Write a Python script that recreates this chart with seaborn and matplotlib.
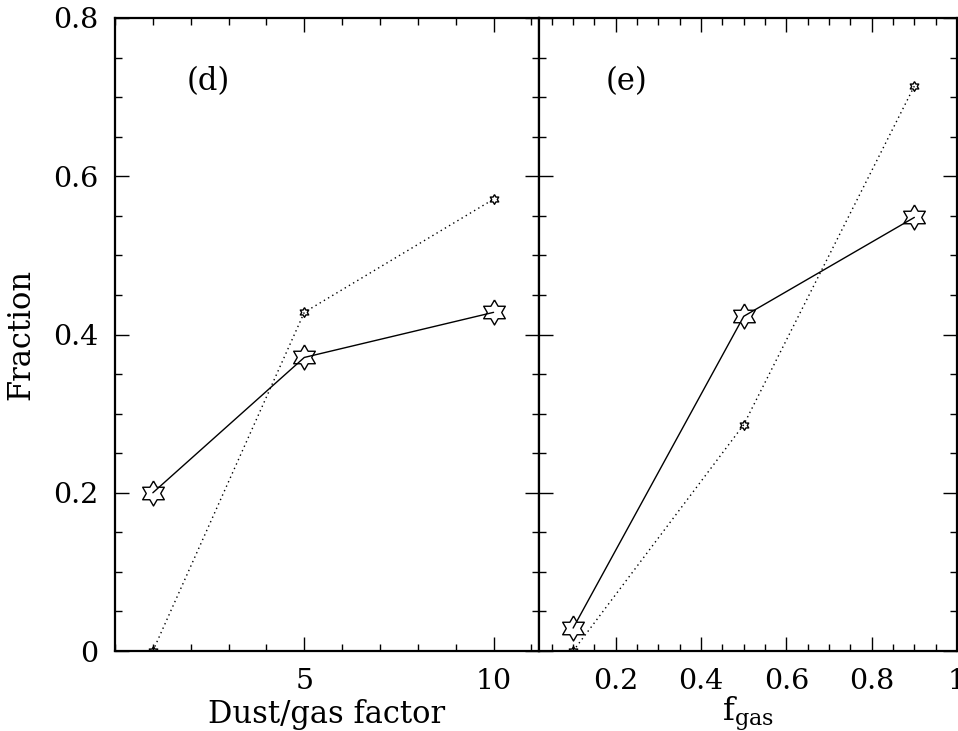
import numpy as np
import pandas as pd
import matplotlib
matplotlib.use("Agg")
import matplotlib.pyplot as plt
from matplotlib.ticker import FixedLocator, MultipleLocator
import seaborn as sns

# Panel (d): fraction versus dust/gas factor
dust_factor = [1, 5, 10]
dust_solid = [0.200, 0.371, 0.428]
dust_dotted = [0.0, 0.428, 0.571]

# Panel (e): fraction versus gas fraction
fgas = [0.1, 0.5, 0.9]
fgas_solid = [0.029, 0.423, 0.548]
fgas_dotted = [0.0, 0.286, 0.714]

y_ticks = [0, 0.2, 0.4, 0.6, 0.8]
y_ticklabels = ["0", "0.2", "0.4", "0.6", "0.8"]
dust_ticks = [5, 10]
dust_ticklabels = ["5", "10"]
fgas_ticks = [0.2, 0.4, 0.6, 0.8, 1.0]
fgas_ticklabels = ["0.2", "0.4", "0.6", "0.8", "1"]

sns.set_style("white")
plt.rcParams["font.family"] = ["DejaVu Serif"]
plt.rcParams["mathtext.fontset"] = "dejavuserif"
plt.rcParams["text.color"] = "black"
plt.rcParams["axes.labelcolor"] = "black"
plt.rcParams["xtick.color"] = "black"
plt.rcParams["ytick.color"] = "black"

# Open six-pointed star marker
ang = np.deg2rad(90 + 30 * np.arange(12))
rad = np.where(np.arange(12) % 2 == 0, 1.0, 1 / np.sqrt(3))
star = list(zip(rad * np.cos(ang), rad * np.sin(ang)))
star.append(star[0])

W, H = 958, 731
fig = plt.figure(figsize=(W / 100, H / 100), dpi=100)
bottom, top = 651, 18
ax1 = fig.add_axes([115 / W, (H - bottom) / H, 424 / W, (bottom - top) / H])
ax2 = fig.add_axes([539 / W, (H - bottom) / H, 418 / W, (bottom - top) / H])

fs_tick = 20.5
fs_label = 22


def draw(ax, x, solid, dotted):
    df_s = pd.DataFrame({"x": x, "y": solid})
    df_d = pd.DataFrame({"x": x, "y": dotted})
    sns.lineplot(data=df_d, x="x", y="y", ax=ax, color="black", lw=1.0,
                 linestyle=(0, (1, 2.5)), marker=star, markersize=7,
                 markerfacecolor="none", markeredgecolor="black",
                 markeredgewidth=1.0)
    sns.lineplot(data=df_s, x="x", y="y", ax=ax, color="black", lw=1.0,
                 marker=star, markersize=18, markerfacecolor="none",
                 markeredgecolor="black", markeredgewidth=1.0)


draw(ax1, dust_factor, dust_solid, dust_dotted)
draw(ax2, fgas, fgas_solid, fgas_dotted)

ax1.set_xlim(0, 11.2)
ax2.set_xlim(0.02, 1.0)

for ax in (ax1, ax2):
    ax.set_ylim(0, 0.8)
    ax.yaxis.set_major_locator(FixedLocator(y_ticks))
    ax.yaxis.set_minor_locator(MultipleLocator(0.05))
    for s in ax.spines.values():
        s.set_linewidth(1.6)
        s.set_color("black")
    ax.tick_params(which="both", direction="in", top=True, right=True,
                   bottom=True, left=True, color="black")
    ax.tick_params(which="major", length=10, width=1.0, pad=12,
                   labelsize=fs_tick)
    ax.tick_params(which="minor", length=5, width=1.0)
    ax.set_ylabel("")

ax1.set_yticklabels(y_ticklabels)
ax2.tick_params(labelleft=False)

ax1.xaxis.set_major_locator(FixedLocator(dust_ticks))
ax1.set_xticklabels(dust_ticklabels)
ax1.xaxis.set_minor_locator(MultipleLocator(1))
ax2.xaxis.set_major_locator(FixedLocator(fgas_ticks))
ax2.set_xticklabels(fgas_ticklabels)
ax2.xaxis.set_minor_locator(MultipleLocator(0.05))

ax1.set_xlabel("Dust/gas factor", fontsize=fs_label, labelpad=3)
ax2.set_xlabel(r"$\mathrm{f}_{\mathrm{gas}}$", fontsize=fs_label + 1,
               labelpad=0)
ax1.set_ylabel("Fraction", fontsize=fs_label, labelpad=12)

ax1.text(0.22, 0.9, "(d)", transform=ax1.transAxes, fontsize=fs_label,
         ha="center", va="center")
ax2.text(0.21, 0.9, "(e)", transform=ax2.transAxes, fontsize=fs_label,
         ha="center", va="center")

fig.savefig("out.png", dpi=100)
